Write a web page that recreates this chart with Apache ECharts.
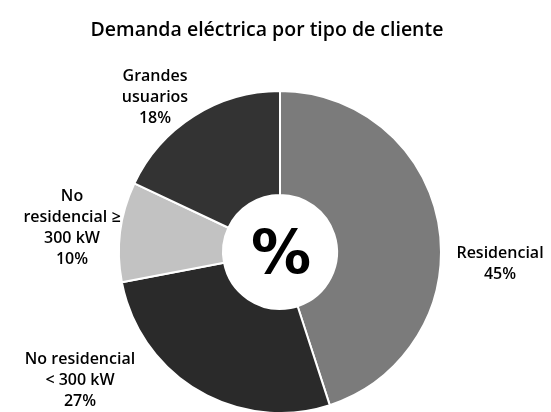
<!DOCTYPE html>
<html>
<head>
<meta charset="utf-8">
<script src="https://cdn.jsdelivr.net/npm/echarts@6/dist/echarts.min.js"></script>
<style>html,body{margin:0;padding:0;background:#fff}#c{width:551px;height:412px}</style>
</head>
<body>
<div id="c"></div>
<script>
var categories = ['Residencial', 'No residencial\n< 300 kW', 'No\nresidencial \u2265\n300 kW', 'Grandes\nusuarios'];
var values = [45, 27, 10, 18];
var colors = ['#7b7b7b', '#2a2a2a', '#c2c2c2', '#333333'];
var labelPos = [[500, 264], [80, 380], [72, 228], [155, 97]];

var chart = echarts.init(document.getElementById('c'));
chart.setOption({
  animation: false,
  title: {
    text: 'Demanda eléctrica por tipo de cliente',
    left: 262, top: 15, textAlign: 'center',
    textStyle: { fontFamily: 'Open Sans', fontSize: 19.5, fontWeight: 600, color: '#000' }
  },
  graphic: [{
    type: 'text', x: 281, y: 257, z: 100,
    style: { text: '%', fontFamily: 'DejaVu Sans', fontWeight: 'bold', fontSize: 60, fill: '#000', align: 'center', verticalAlign: 'middle' }
  }],
  series: [{
    type: 'pie',
    center: [280, 252],
    radius: [57, 161],
    startAngle: 90,
    clockwise: true,
    data: categories.map(function (c, i) {
      return { name: c, value: values[i], itemStyle: { color: colors[i] } };
    }),
    itemStyle: { borderColor: '#fff', borderWidth: 2 },
    label: {
      show: true,
      overflow: 'none',
      formatter: function (p) { return p.name + '\n' + p.value + '%'; },
      fontFamily: 'Open Sans', fontSize: 16, fontWeight: 600, lineHeight: 21, color: '#000', align: 'center'
    },
    labelLine: { show: false },
    labelLayout: function (p) {
      var pos = labelPos[p.dataIndex];
      return { x: pos[0], y: pos[1], align: 'center', verticalAlign: 'middle' };
    },
    emphasis: { disabled: true }
  }]
});
</script>
</body>
</html>
